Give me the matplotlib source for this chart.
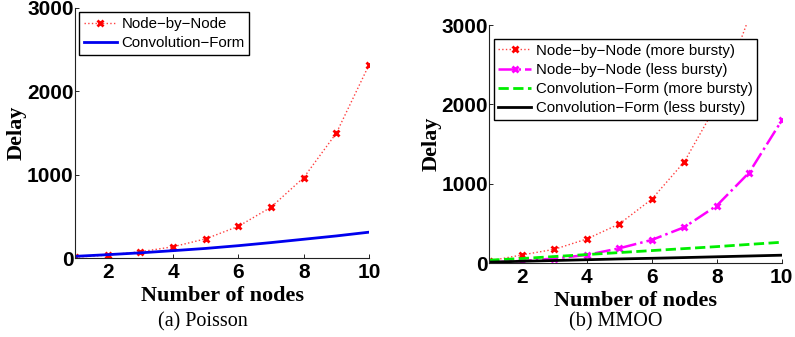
import numpy as np
import matplotlib.pyplot as plt

nodes = [1, 2, 3, 4, 5, 6, 7, 8, 9, 10]

# (a) Poisson
poisson_nbn = [10, 35, 75, 135, 230, 380, 610, 965, 1500, 2320]
poisson_conv = [20, 40, 62, 88, 115, 148, 185, 225, 265, 310]

# (b) MMOO
mmoo_nbn_more = [30, 105, 176, 306, 495, 807, 1277, 2000, 3100, 4700]
mmoo_nbn_less = [10, 30, 60, 105, 189, 294, 454, 726, 1143, 1798]
mmoo_conv_more = [40, 60, 85, 110, 135, 160, 185, 210, 238, 265]
mmoo_conv_less = [15, 25, 35, 45, 55, 63, 72, 82, 92, 102]

xticks = [2, 4, 6, 8, 10]
yticks = [0, 1000, 2000, 3000]

tick_font = {'family': 'Liberation Sans', 'weight': 'bold', 'size': 15}
label_font = {'family': 'Liberation Serif', 'weight': 'bold', 'size': 16}
legend_font = {'family': 'Liberation Sans', 'size': 10.8}


def styleAxes(ax, label_y):
    ax.set_xlim(1, 10)
    ax.set_ylim(0, 3000)
    ax.set_xticks(xticks)
    ax.set_yticks(yticks)
    ax.set_xticklabels([str(t) for t in xticks], fontdict=tick_font)
    ax.set_yticklabels([str(t) for t in yticks], fontdict=tick_font)
    ax.spines['top'].set_visible(False)
    ax.spines['right'].set_visible(False)
    for s in ['left', 'bottom']:
        ax.spines[s].set_color('#222222')
        ax.spines[s].set_linewidth(0.8)
    ax.tick_params(direction='in', length=3, width=0.6)
    ax.tick_params(axis='x', pad=3.5)
    ax.tick_params(axis='y', pad=1)
    ax.set_xlabel('Number of nodes', fontdict=label_font)
    ax.xaxis.set_label_coords(0.5, label_y)
    ax.set_ylabel('Delay', fontdict=label_font, labelpad=0)


def makeLegend(ax, anchor):
    leg = ax.legend(loc='upper left', bbox_to_anchor=anchor, prop=legend_font,
                    fancybox=False, edgecolor='black', framealpha=1, handlelength=2.2,
                    handletextpad=0.3, borderpad=0.3, labelspacing=0.35, borderaxespad=0.3,
                    numpoints=1)
    leg.get_frame().set_linewidth(1)


fig = plt.figure(figsize=(7.95, 3.37), dpi=100)
ax1 = fig.add_axes([0.0943, 0.2344, 0.370, 0.742])
ax2 = fig.add_axes([0.6155, 0.2187, 0.3678, 0.7071])

ax1.plot(nodes, poisson_nbn, color='#ff4040', linestyle=':', linewidth=1,
         marker='x', markersize=5, markeredgewidth=2, markeredgecolor='red',
         label='Node\u2212by\u2212Node')
ax1.plot(nodes, poisson_conv, color='#0000ee', linestyle='-', linewidth=2,
         label='Convolution\u2212Form')
styleAxes(ax1, -0.11)
makeLegend(ax1, (0.0, 1.0))

ax2.plot(nodes, mmoo_nbn_more, color='#ff4040', linestyle=':', linewidth=1,
         marker='x', markersize=5, markeredgewidth=2, markeredgecolor='red',
         label='Node\u2212by\u2212Node (more bursty)')
ax2.plot(nodes, mmoo_nbn_less, color='magenta', linestyle='-.', linewidth=1.8,
         marker='x', markersize=5, markeredgewidth=2, label='Node\u2212by\u2212Node (less bursty)')
ax2.plot(nodes, mmoo_conv_more, color='#00ee00', linestyle='--', linewidth=2,
         label='Convolution\u2212Form (more bursty)')
ax2.plot(nodes, mmoo_conv_less, color='black', linestyle='-', linewidth=2,
         label='Convolution\u2212Form (less bursty)')
styleAxes(ax2, -0.115)
makeLegend(ax2, (0.0, 0.96))

fig.text(203 / 795, 1 - 322 / 337, '(a) Poisson', ha='center', va='center',
         fontfamily='Liberation Serif', fontsize=14.5)
fig.text(616 / 795, 1 - 322 / 337, '(b) MMOO', ha='center', va='center',
         fontfamily='Liberation Serif', fontsize=14.5)

fig.savefig('out.png', dpi=100)
